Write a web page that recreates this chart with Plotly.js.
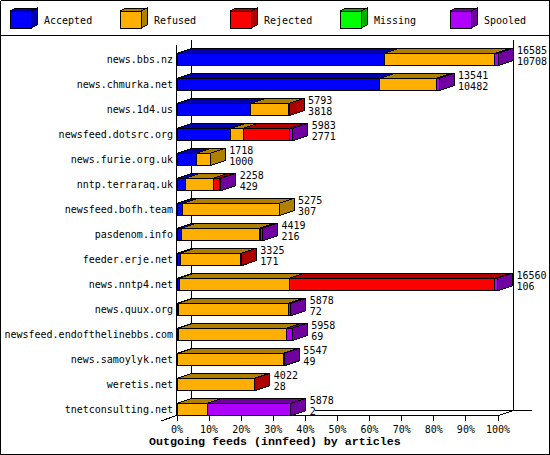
<!DOCTYPE html>
<html><head><meta charset="utf-8">
<script src="https://cdn.plot.ly/plotly-3.0.1.min.js"></script>
<style>html,body{margin:0;padding:0;background:#fff}#c{width:550px;height:455px}
#c path{shape-rendering:crispEdges}</style></head>
<body><div id="c"></div>
<script>
const hosts = ["news.bbs.nz","news.chmurka.net","news.1d4.us","newsfeed.dotsrc.org","news.furie.org.uk","nntp.terraraq.uk","newsfeed.bofh.team","pasdenom.info","feeder.erje.net","news.nntp4.net","news.quux.org","newsfeed.endofthelinebbs.com","news.samoylyk.net","weretis.net","tnetconsulting.net"];
const accepted = [10708,10482,3818,2771,1000,429,307,216,171,106,72,69,49,28,2];
const refused  = [5711,2918,1960,645,718,1445,4968,4030,3130,5699,5678,5578,5441,3970,1574];
const rejected = [0,0,15,2372,0,315,0,70,24,10614,0,0,0,24,0];
const missing  = [0,0,0,0,0,0,0,0,0,0,0,0,0,0,0];
const spooled  = [166,141,0,195,0,69,0,103,0,141,128,311,57,0,4302];
const totals   = [16585,13541,5793,5983,1718,2258,5275,4419,3325,16560,5878,5958,5547,4022,5878];
const maxTotal = 16585;
const seriesNames = ["Accepted","Refused","Rejected","Missing","Spooled"];
const seriesValues = [accepted,refused,rejected,missing,spooled];
const colors = ["#0000ff","#ffaf00","#ff0000","#00ff00","#af00ff"];
const darks  = ["#0000af","#af7f00","#af0000","#00af00","#7000a0"];
const tickVals = [0,10,20,30,40,50,60,70,80,90,100];
const tickText = ["0%","10%","20%","30%","40%","50%","60%","70%","80%","90%","100%"];
const xTitle = "Outgoing feeds (innfeed) by articles";

const W=550,H=455,L=177,R=532,T=40,B=415;
const pct = v => v/maxTotal*100;
const pxPerPct = 3.21, rowPx = 25;
const xRange=[0,(R-L)/pxPerPct];
const yRange=[14+(B-409.5)/rowPx,-(59.5-T)/rowPx];
const dx=15/pxPerPct, dy=5/rowPx, hh=6.2/rowPx;

const traces=[], polyTraces=[];
seriesNames.forEach((name,s)=>{
  const vals=seriesValues[s];
  traces.push({type:'bar',orientation:'h',name,y:hosts,x:vals.map(pct),yaxis:'y',xaxis:'x',
    width:2*hh,marker:{color:colors[s],line:{color:'#000',width:1}},hoverinfo:'name+x'});
  const px=[],py=[];
  hosts.forEach((h,i)=>{
    let start=0; for(let k=0;k<s;k++) start+=seriesValues[k][i];
    const v=vals[i]; if(!v) return;
    const a=pct(start), b=pct(start+v), yt=i-hh, yb=i+hh;
    px.push(a,b,b+dx,a+dx,a,null); py.push(yt,yt,yt-dy,yt-dy,yt,null);
    let last=true; for(let k=s+1;k<5;k++) if(seriesValues[k][i]>0) last=false;
    if(last){ px.push(b,b+dx,b+dx,b,b,null); py.push(yt,yt-dy,yb-dy,yb,yt,null); }
  });
  polyTraces.push({type:'scatter',mode:'lines',x:px,y:py,xaxis:'x',yaxis:'y2',fill:'toself',
    fillcolor:darks[s],line:{color:'#000',width:1,shape:'linear'},connectgaps:false,hoverinfo:'skip',showlegend:false});
});
const labelFont={family:'"DejaVu Sans Mono",monospace',size:10,color:'#000'};
const labelX=totals.map(t=>pct(t)+dx+4/pxPerPct);
polyTraces.push({type:'scatter',mode:'text',x:labelX,y:hosts.map((h,i)=>i-0.31),text:totals.map(String),
  textposition:'middle right',textfont:labelFont,xaxis:'x',yaxis:'y2',hoverinfo:'skip',showlegend:false,cliponaxis:false});
polyTraces.push({type:'scatter',mode:'text',x:labelX,y:hosts.map((h,i)=>i+0.13),text:accepted.map(String),
  textposition:'middle right',textfont:labelFont,xaxis:'x',yaxis:'y2',hoverinfo:'skip',showlegend:false,cliponaxis:false});

const X=p=>(p-L)/(R-L), Y=p=>(B-p)/(B-T);
const line=(x0,y0,x1,y1,w)=>({type:'line',xref:'paper',yref:'paper',x0:X(x0),y0:Y(y0),x1:X(x1),y1:Y(y1),line:{color:'#000',width:w||1},layer:'below'});
const shapes=[
  line(0.5,0.5,549.5,0.5),line(0.5,454.5,549.5,454.5),line(0.5,0.5,0.5,454.5),line(549.5,0.5,549.5,454.5),
  line(0,35.5,550,35.5),
  line(176.5,45,176.5,415.5),line(191.5,40,191.5,400),line(513.5,40,513.5,410.5),
  line(176.5,415.5,498.5,415.5),line(315,410.5,532,410.5),
  line(161,421,176.5,415.5),line(498.5,415.5,513.5,410.5)
];
const annotations=[];
seriesNames.forEach((n,s)=>{
  const x0=10+110*s, x1=x0+21, y0=11, y1=28, d=6, e=3;
  const poly=(pts,fill)=>({type:'path',xref:'paper',yref:'paper',layer:'below',fillcolor:fill,line:{color:'#000',width:1},
    path:'M'+pts.map(p=>X(p[0])+','+Y(p[1])).join('L')+'Z'});
  shapes.push(poly([[x0,y0],[x1,y0],[x1,y1],[x0,y1]],colors[s]));
  shapes.push(poly([[x0,y0],[x0+d,y0-e],[x1+d,y0-e],[x1,y0]],darks[s]));
  shapes.push(poly([[x1,y0],[x1+d,y0-e],[x1+d,y1-e],[x1,y1]],darks[s]));
  annotations.push({xref:'paper',yref:'paper',x:X(x0+31.5),y:Y(20),xanchor:'left',yanchor:'middle',showarrow:false,text:n,font:labelFont});
});
annotations.push({xref:'paper',yref:'paper',x:X(274.5),y:Y(441.5),xanchor:'center',yanchor:'middle',showarrow:false,text:xTitle,
  font:{family:'"Liberation Mono",monospace',size:11.67,color:'#000',weight:'bold'}});
const layout={
  width:W,height:H,paper_bgcolor:'#fff',plot_bgcolor:'rgba(0,0,0,0)',showlegend:false,barmode:'stack',
  margin:{l:L,r:W-R,t:T,b:H-B,pad:0},
  font:labelFont,
  xaxis:{range:xRange,tickmode:'array',tickvals:tickVals,ticktext:tickText,ticks:'outside',ticklen:5,tickwidth:1,tickcolor:'#000',
    showgrid:false,zeroline:false,showline:false,tickfont:labelFont,tickangle:0},
  yaxis:{type:'category',categoryorder:'array',categoryarray:hosts,range:yRange,showgrid:false,zeroline:false,showline:false,ticks:'',tickfont:labelFont,ticklabelstandoff:3},
  yaxis2:{type:'linear',overlaying:'y',range:yRange,visible:false,showgrid:false,zeroline:false,side:'right'},
  shapes,annotations
};
Plotly.newPlot('c',traces.concat(polyTraces),layout,{displayModeBar:false,staticPlot:true});
</script></body></html>
